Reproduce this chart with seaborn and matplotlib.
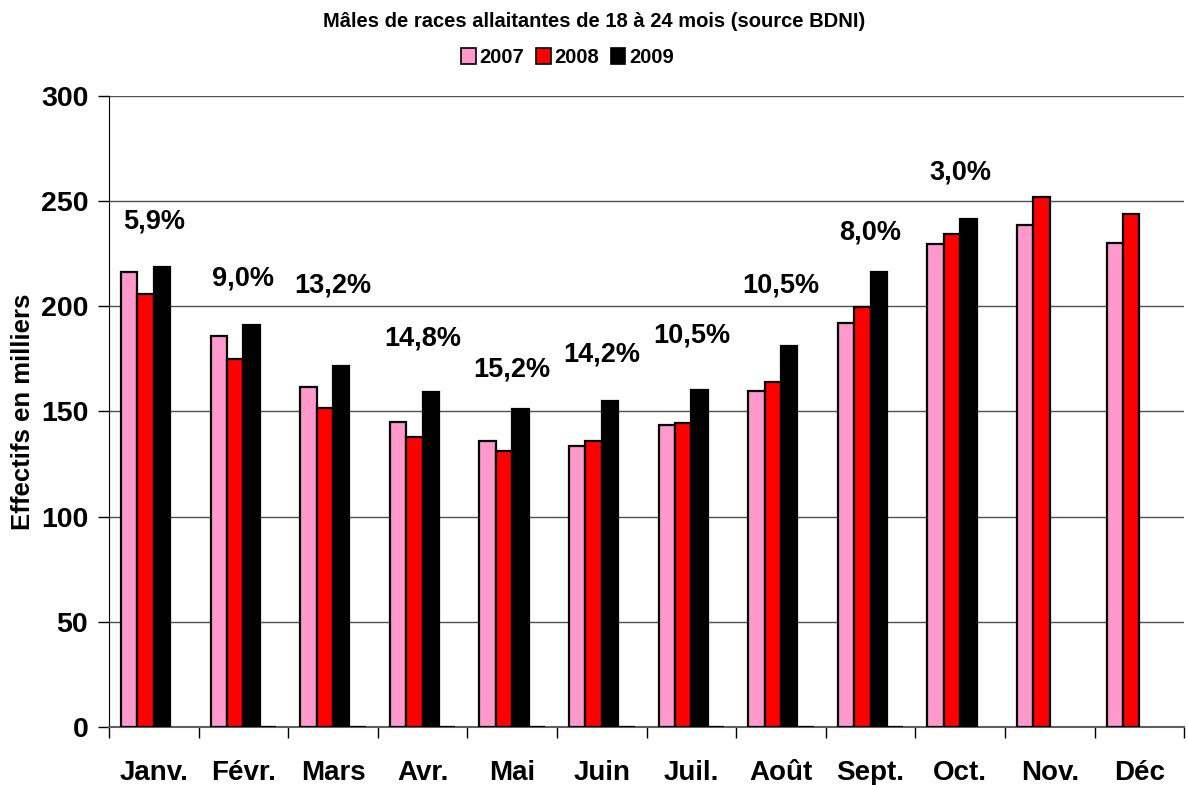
import numpy as np
import pandas as pd
import seaborn as sns
import matplotlib.pyplot as plt
from matplotlib.patches import Patch

mois = ["Janv.", "Févr.", "Mars", "Avr.", "Mai", "Juin", "Juil.", "Août",
        "Sept.", "Oct.", "Nov.", "Déc"]
v2007 = [216, 186, 161.5, 145, 136, 133.5, 143.5, 159.5, 192, 229.5, 238.5, 230]
v2008 = [206, 175, 151.5, 138, 131, 136, 144.5, 164, 199.5, 234.5, 252, 244]
v2009 = [218.5, 191, 171.5, 159, 151, 155, 160, 181, 216, 241.5, np.nan, np.nan]
# serie vide (valeurs nulles) presente dans le graphique d'origine
vide = [np.nan, 0, 0, 0, 0, 0, 0, 0, 0, np.nan, np.nan, np.nan]
evol = ["5,9%", "9,0%", "13,2%", "14,8%", "15,2%", "14,2%", "10,5%", "10,5%",
        "8,0%", "3,0%"]
evol_y = [240, 213, 210, 184.5, 170, 177, 186, 210, 235, 263.5]

annees = ["2007", "2008", "2009", "vide"]
couleurs = ["#FF99CC", "#FF0000", "#000000", "#000000"]

df = pd.DataFrame({
    "mois": mois * 4,
    "annee": np.repeat(annees, len(mois)),
    "valeur": v2007 + v2008 + v2009 + vide,
})

sns.set_style("white")
plt.rcParams["font.family"] = ["Liberation Sans", "DejaVu Sans"]
plt.rcParams["font.weight"] = "bold"
plt.rcParams["text.color"] = "black"
plt.rcParams["axes.labelcolor"] = "black"
plt.rcParams["xtick.color"] = "black"
plt.rcParams["ytick.color"] = "black"

fig = plt.figure(figsize=(11.88, 7.85), dpi=100)
ax = fig.add_axes([0.0918, 0.074, 0.905, 0.804])

sns.barplot(data=df, x="mois", y="valeur", hue="annee", hue_order=annees,
            order=mois, palette=couleurs, width=0.733, errorbar=None,
            edgecolor="black", linewidth=1.6, saturation=1, ax=ax,
            legend=False, zorder=3)

for i, (t, y) in enumerate(zip(evol, evol_y)):
    ax.text(i, y, t, ha="center", va="center", fontsize=19.5,
            fontweight="bold", color="black")

ax.set_ylim(0, 300)
ax.set_xlim(-0.5, len(mois) - 0.5)
ax.set_yticks(range(0, 301, 50))
ax.set_yticklabels([str(v) for v in range(0, 301, 50)], fontsize=20.5,
                   fontweight="bold")
ax.set_xticks(range(len(mois)))
ax.set_xticklabels(mois, fontsize=20, fontweight="bold")
ax.set_xticks(np.arange(-0.5, len(mois), 1), minor=True)
ax.tick_params(axis="x", which="major", length=0, pad=24)
ax.tick_params(axis="x", which="minor", length=8, width=1, color="black",
               direction="out", bottom=True)
ax.tick_params(axis="y", length=8, width=1, color="black", direction="out",
               left=True, pad=7)
ax.set_xlabel("")
ax.set_ylabel("Effectifs en milliers", fontsize=18.5, fontweight="bold")
ax.yaxis.set_label_coords(-0.069, 0.5)

ax.yaxis.grid(True, color="#505050", linewidth=1)
ax.set_axisbelow(True)
for s in ["top", "right"]:
    ax.spines[s].set_visible(False)
ax.spines["left"].set_color("black")
ax.spines["bottom"].set_color("#606060")
ax.spines["bottom"].set_linewidth(1.5)

fig.text(0.5, 0.972, "Mâles de races allaitantes de 18 à 24 mois (source BDNI)",
         ha="center", va="center", fontsize=14.5, fontweight="bold")

handles = [Patch(facecolor=c, edgecolor="black", linewidth=1.2)
           for c in couleurs[:3]]
fig.legend(handles, annees[:3], loc="center", bbox_to_anchor=(0.478, 0.927),
           ncol=3, frameon=False, fontsize=14.5, handlelength=0.7,
           handleheight=0.9, handletextpad=0.2, columnspacing=0.6)

fig.savefig("out.png", dpi=100)
